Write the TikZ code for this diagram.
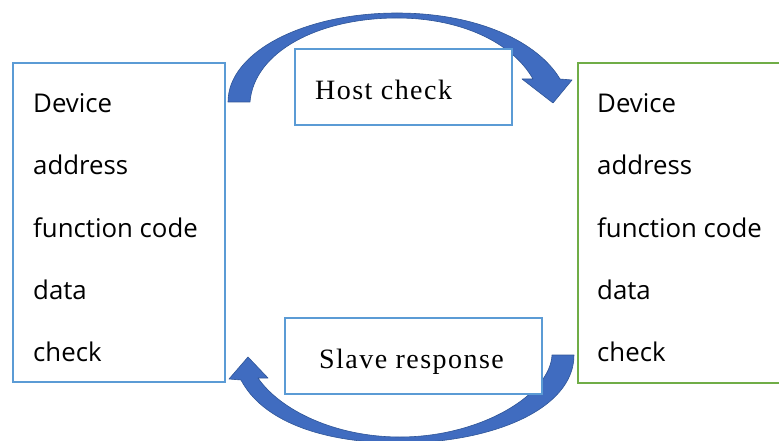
\documentclass[tikz,border=0pt]{standalone}
\usepackage{fontspec}
\setmainfont{Open Sans}
\newfontfamily\labelfont[LetterSpace=5.2]{Liberation Serif}
\definecolor{boxblue}{RGB}{91,155,213}
\definecolor{boxgreen}{RGB}{112,173,71}
\definecolor{arrowfill}{RGB}{64,108,192}
\definecolor{arrowedge}{RGB}{47,85,151}
\begin{document}
\begin{tikzpicture}[x=1pt,y=-1pt,
  frame/.style={draw=boxblue,line width=2pt,fill=white,inner sep=0pt,anchor=north west},
  item/.style={anchor=base west,inner sep=0pt,font=\fontsize{25.8}{30}\selectfont},
  lbl/.style={anchor=base west,inner sep=0pt,font=\labelfont\fontsize{28}{32}\selectfont},
  bigarrow/.style={fill=arrowfill,draw=arrowedge,line width=0.6pt,line join=round}]
\useasboundingbox (0,0) rectangle (779,441);
% curved block arrows
\path[bigarrow] (228,102) .. controls (228,52) and (304,13) .. (397,13)
  .. controls (478,13) and (538,42) .. (560,79)
  -- (572,80) -- (553,103) -- (522,79) -- (533,79)
  .. controls (512,42) and (460,18) .. (397,18)
  .. controls (318,18) and (254,52) .. (250,102) -- cycle;
\path[bigarrow] (574,355) .. controls (574,410) and (490,443) .. (400,443)
  .. controls (320,443) and (262,420) .. (241,380)
  -- (229,379) -- (248,357) -- (268,378) -- (258,378)
  .. controls (280,410) and (335,437) .. (400,437)
  .. controls (480,437) and (550,395) .. (552,355) -- cycle;
% boxes
\node[frame,minimum width=212pt,minimum height=319pt] (master) at (12,62) {};
\node[frame,draw=boxgreen,minimum width=220pt,minimum height=320pt] (slave) at (577,62) {};
\node[frame,minimum width=217pt,minimum height=76pt] (hostbox) at (294,48) {};
\node[frame,minimum width=257pt,minimum height=76pt] (slavebox) at (284,317) {};
% texts
\node[lbl] (hosttxt) at (315,100) {Host check};
\node[lbl] (slavetxt) at (319,368) {Slave response};
\node[item] (m1) at (33,113) {Device};
\node[item] (m2) at (33,175) {address};
\node[item] (m3) at (33,237) {function code};
\node[item] (m4) at (33,299) {data};
\node[item] (m5) at (33,361) {check};
\node[item] (s1) at (597,113) {Device};
\node[item] (s2) at (597,175) {address};
\node[item] (s3) at (597,237) {function code};
\node[item] (s4) at (597,299) {data};
\node[item] (s5) at (597,361) {check};
\end{tikzpicture}
\end{document}
